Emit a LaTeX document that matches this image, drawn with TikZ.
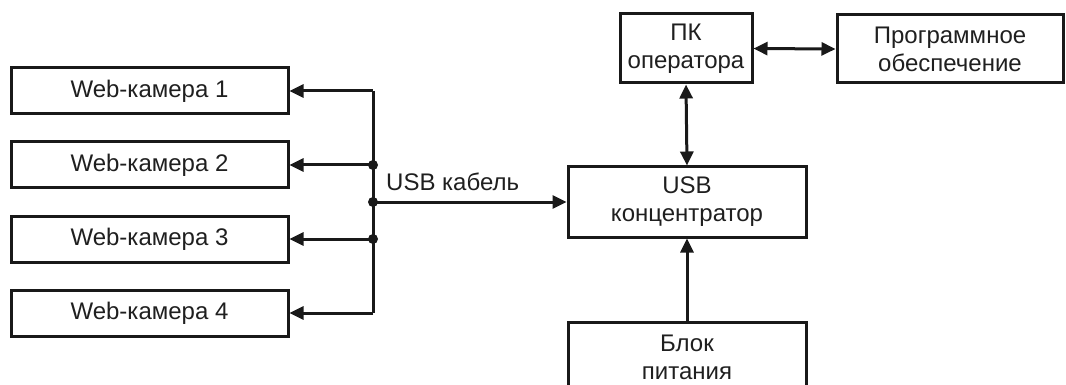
\documentclass[tikz,border=0pt]{standalone}
\usepackage{fontspec}
\setmainfont{Liberation Sans}
\usetikzlibrary{arrows.meta}
\begin{document}
\begin{tikzpicture}[x=1pt,y=-1pt,
  box/.style={draw=black!90,line width=3pt,rectangle,inner sep=0pt,align=center,
    font=\fontsize{24}{28}\selectfont,text=black!88},
  conn/.style={draw=black!90,line width=3pt,-{Triangle[length=14pt,width=13pt]}},
  biconn/.style={draw=black!90,line width=3pt,{Triangle[length=14pt,width=13pt]}-{Triangle[length=14pt,width=13pt]}},
  dot/.style={circle,fill=black!90,inner sep=0pt,minimum size=10pt}]
\useasboundingbox (0,0) rectangle (1066,385);
\clip (0,0) rectangle (1066,385);
% nodes
\node[box,minimum width=277pt,minimum height=46pt] (cam1) at (149.5,91) {Web-камера 1};
\node[box,minimum width=277pt,minimum height=46pt] (cam2) at (149.5,165) {Web-камера 2};
\node[box,minimum width=277pt,minimum height=46pt] (cam3) at (149.5,239) {Web-камера 3};
\node[box,minimum width=277pt,minimum height=46pt] (cam4) at (149.5,313) {Web-камера 4};
\node[box,minimum width=238pt,minimum height=70pt] (hub) at (687,202) {USB\\концентратор};
\node[box,minimum width=238pt,minimum height=70pt] (psu) at (687,357) {Блок\\питания};
\node[box,minimum width=132pt,minimum height=69pt] (pc) at (686,48.5) {ПК\\оператора};
\node[box,minimum width=226pt,minimum height=68pt] (soft) at (950,49) {Программное\\обеспечение};
% bus
\coordinate (j1) at (373,91);
\coordinate (j2) at (373,165);
\coordinate (j0) at (373,202);
\coordinate (j3) at (373,239);
\coordinate (j4) at (373,313);
\draw[draw=black!90,line width=3pt] (j1) -- (j4);
\draw[conn] (j1) -- (cam1.east);
\draw[conn] (j2) -- (cam2.east);
\draw[conn] (j3) -- (cam3.east);
\draw[conn] (j4) -- (cam4.east);
\draw[conn] (j0) -- (hub.west);
\node[dot] (d2) at (j2) {};
\node[dot] (d0) at (j0) {};
\node[dot] (d3) at (j3) {};
\node[font=\fontsize{24}{28}\selectfont,text=black!88,anchor=base west,inner sep=0pt] (lbl) at (386,190) {USB кабель};
\draw[conn] (psu.north) -- (hub.south);
\draw[biconn] (hub.north) -- (pc.south);
\draw[biconn] (pc.east) -- (soft.west);
\end{tikzpicture}
\end{document}
